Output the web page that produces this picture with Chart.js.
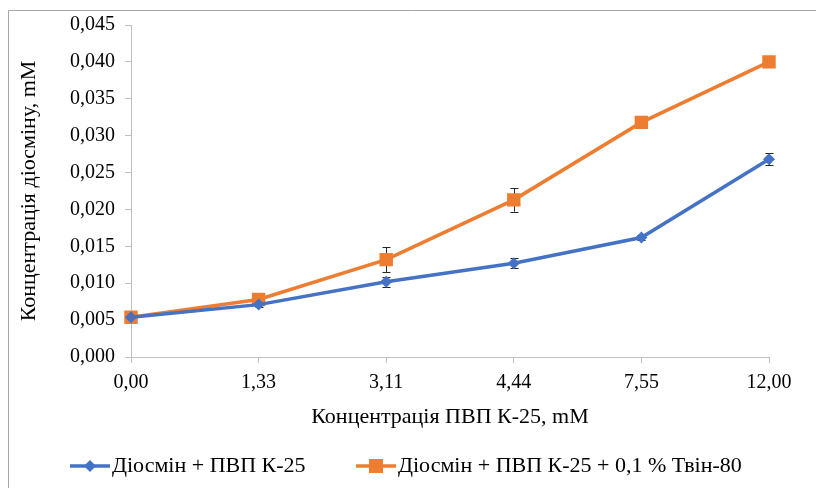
<!DOCTYPE html>
<html><head><meta charset="utf-8">
<script src="https://cdn.jsdelivr.net/npm/chart.js@4/dist/chart.umd.min.js"></script>
</head><body style="margin:0">
<canvas id="c" width="816" height="488"></canvas>
<script>
const categories = ['0,00', '1,33', '3,11', '4,44', '7,55', '12,00'];
const seriesNames = ['Діосмін + ПВП К-25', 'Діосмін + ПВП К-25 + 0,1 % Твін-80'];
const diosmin = [0.0054, 0.0071, 0.0102, 0.0127, 0.0162, 0.0268];
const diosminErr = [0.0007, 0.0003, 0.0007, 0.0007, 0.0003, 0.0008];
const diosminTween = [0.0054, 0.0078, 0.0132, 0.0213, 0.0318, 0.0400];
const diosminTweenErr = [0.0004, 0.0003, 0.0017, 0.0016, 0.0004, 0.0006];
const yTitle = 'Концентрація діосміну, mM';
const xTitle = 'Концентрація ПВП К-25, mM';
const yTickValues = [0, 0.005, 0.01, 0.015, 0.02, 0.025, 0.03, 0.035, 0.04, 0.045];

const BLUE = '#4472C4';
const ORANGE = '#ED7D31';
const AXIS = '#bfbfbf';
const SERIF = "'Liberation Serif'";

const errorBars = {
  id: 'errorBars',
  beforeDatasetsDraw(chart) {
    const ctx = chart.ctx;
    const ys = chart.scales.y;
    const errs = [diosminErr, diosminTweenErr];
    ctx.save();
    ctx.strokeStyle = '#262626';
    ctx.lineWidth = 1;
    chart.data.datasets.forEach((ds, i) => {
      const meta = chart.getDatasetMeta(i);
      meta.data.forEach((pt, j) => {
        const v = ds.data[j];
        const e = errs[i][j];
        const x = Math.round(pt.x) + 0.5;
        const yTop = ys.getPixelForValue(v + e);
        const yBot = ys.getPixelForValue(v - e);
        ctx.beginPath();
        ctx.moveTo(x, yTop); ctx.lineTo(x, yBot);
        ctx.moveTo(x - 4, Math.round(yTop) + 0.5); ctx.lineTo(x + 4, Math.round(yTop) + 0.5);
        ctx.moveTo(x - 4, Math.round(yBot) + 0.5); ctx.lineTo(x + 4, Math.round(yBot) + 0.5);
        ctx.stroke();
      });
    });
    ctx.restore();
  }
};

const frameAndLegend = {
  id: 'frameAndLegend',
  beforeDraw(chart) {
    const ctx = chart.ctx;
    ctx.save();
    ctx.strokeStyle = '#a6a6a6';
    ctx.lineWidth = 1;
    ctx.beginPath();
    ctx.moveTo(8.5, chart.height);
    ctx.lineTo(8.5, 10.5);
    ctx.lineTo(chart.width, 10.5);
    ctx.stroke();
    ctx.restore();
  },
  afterDraw(chart) {
    const ctx = chart.ctx;
    const y = 466;
    ctx.save();
    ctx.font = "22px 'Liberation Serif'";
    ctx.textBaseline = 'middle';
    const x0 = 70;
    ctx.strokeStyle = BLUE; ctx.lineWidth = 3.5;
    ctx.beginPath(); ctx.moveTo(x0, y); ctx.lineTo(x0 + 40, y); ctx.stroke();
    ctx.fillStyle = BLUE;
    ctx.beginPath();
    ctx.moveTo(x0 + 20, y - 6); ctx.lineTo(x0 + 26, y); ctx.lineTo(x0 + 20, y + 6); ctx.lineTo(x0 + 14, y);
    ctx.closePath(); ctx.fill();
    ctx.fillStyle = '#000';
    ctx.fillText(seriesNames[0], x0 + 42, y);
    const x1 = 356;
    ctx.strokeStyle = ORANGE;
    ctx.beginPath(); ctx.moveTo(x1, y); ctx.lineTo(x1 + 40, y); ctx.stroke();
    ctx.fillStyle = ORANGE;
    ctx.fillRect(x1 + 13, y - 7, 14, 14);
    ctx.fillStyle = '#000';
    ctx.fillText(seriesNames[1], x1 + 42, y);
    ctx.restore();
  }
};

new Chart(document.getElementById('c'), {
  type: 'line',
  data: {
    labels: categories,
    datasets: [
      { label: seriesNames[0], data: diosmin, borderColor: BLUE, backgroundColor: BLUE,
        borderWidth: 3.5, pointStyle: 'rectRot', pointRadius: 6, pointBorderWidth: 0, tension: 0 },
      { label: seriesNames[1], data: diosminTween, borderColor: ORANGE, backgroundColor: ORANGE,
        borderWidth: 3.5, pointStyle: 'rect', pointRadius: 9.5, pointBorderWidth: 0, tension: 0 }
    ]
  },
  options: {
    responsive: false,
    animation: false,
    layout: { padding: { left: 10, top: 25, right: 47, bottom: 58 } },
    plugins: { legend: { display: false }, tooltip: { enabled: false } },
    scales: {
      x: {
        offset: false,
        grid: { drawOnChartArea: false, tickLength: 6, color: AXIS },
        border: { color: AXIS },
        ticks: { color: '#000', font: { family: SERIF, size: 20 }, padding: 8, maxRotation: 0, autoSkip: false },
        title: { display: true, text: xTitle, color: '#000', font: { family: SERIF, size: 22 }, padding: { top: 10, bottom: 0 } },
        afterFit(scale) { scale.height = 73; }
      },
      y: {
        min: 0,
        max: 0.045,
        grid: { drawOnChartArea: false, tickLength: 6, color: AXIS },
        border: { color: AXIS },
        afterBuildTicks(scale) { scale.ticks = yTickValues.map(v => ({ value: v })); },
        ticks: { color: '#000', font: { family: SERIF, size: 20 }, padding: 10,
          callback: (v) => Number(v).toFixed(3).replace('.', ',') },
        title: { display: true, text: yTitle, color: '#000', font: { family: SERIF, size: 22 }, padding: { top: 6, bottom: 0 } },
        afterFit(scale) { scale.width = 121; }
      }
    }
  },
  plugins: [frameAndLegend, errorBars]
});
</script></body></html>
